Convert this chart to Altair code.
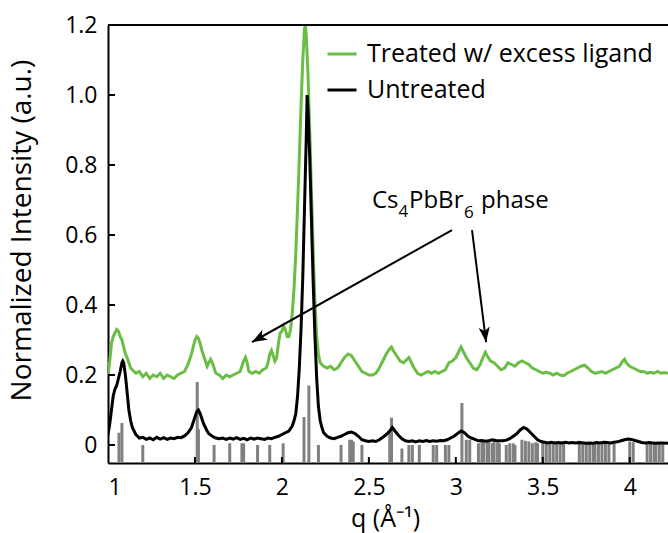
import math
import altair as alt
import pandas as pd

FONT = "Open Sans"
GREEN = "#6abd45"
GRAY = "#808080"

# ---------------- data ----------------
treated_q = [1.00, 1.01, 1.02, 1.03, 1.04, 1.05, 1.06, 1.07, 1.08, 1.09, 1.10, 1.11, 1.12, 1.13, 1.14,
             1.15, 1.16, 1.18, 1.20, 1.22, 1.24, 1.26, 1.28, 1.30, 1.32, 1.34, 1.36, 1.38, 1.40, 1.42,
             1.44, 1.46, 1.48, 1.50, 1.51, 1.52, 1.53, 1.54, 1.55, 1.56, 1.57, 1.58, 1.59, 1.60, 1.61,
             1.62, 1.64, 1.66, 1.68, 1.70, 1.72, 1.74, 1.76, 1.78, 1.79, 1.80, 1.81, 1.83, 1.85, 1.87,
             1.89, 1.91, 1.92, 1.93, 1.94, 1.95, 1.96, 1.97, 1.98, 1.99, 2.00, 2.01, 2.02, 2.03, 2.04,
             2.05, 2.06, 2.07, 2.08, 2.09, 2.10, 2.11, 2.12, 2.13, 2.135, 2.14, 2.15, 2.16, 2.17, 2.18,
             2.19, 2.20, 2.21, 2.22, 2.24, 2.26, 2.28, 2.30, 2.32, 2.34, 2.36, 2.38, 2.40, 2.42, 2.44,
             2.46, 2.48, 2.50, 2.52, 2.54, 2.56, 2.58, 2.60, 2.62, 2.63, 2.64, 2.66, 2.68, 2.70, 2.72,
             2.73, 2.74, 2.76, 2.78, 2.80, 2.82, 2.84, 2.86, 2.88, 2.90, 2.92, 2.94, 2.96, 2.98, 3.00,
             3.02, 3.03, 3.04, 3.06, 3.08, 3.10, 3.12, 3.14, 3.16, 3.17, 3.18, 3.20, 3.22, 3.24, 3.26,
             3.28, 3.30, 3.32, 3.34, 3.36, 3.38, 3.40, 3.42, 3.44, 3.46, 3.48, 3.50, 3.52, 3.54, 3.56,
             3.58, 3.60, 3.62, 3.64, 3.66, 3.68, 3.70, 3.72, 3.74, 3.76, 3.78, 3.80, 3.82, 3.84, 3.86,
             3.88, 3.90, 3.92, 3.94, 3.96, 3.97, 3.98, 4.00, 4.02, 4.04, 4.06, 4.08, 4.10, 4.12, 4.14,
             4.16, 4.18, 4.20, 4.22]
treated_i = [0.200, 0.240, 0.290, 0.310, 0.320, 0.330, 0.325, 0.310, 0.300, 0.280, 0.260, 0.250, 0.235, 0.220, 0.215,
             0.210, 0.205, 0.210, 0.195, 0.205, 0.190, 0.200, 0.195, 0.205, 0.190, 0.200, 0.195, 0.190, 0.200, 0.205,
             0.210, 0.230, 0.260, 0.300, 0.310, 0.305, 0.290, 0.270, 0.255, 0.240, 0.225, 0.235, 0.245, 0.235, 0.220,
             0.205, 0.200, 0.190, 0.200, 0.195, 0.200, 0.205, 0.210, 0.240, 0.250, 0.235, 0.210, 0.205, 0.210, 0.205,
             0.215, 0.220, 0.235, 0.260, 0.270, 0.255, 0.240, 0.250, 0.290, 0.320, 0.325, 0.340, 0.330, 0.310, 0.310,
             0.330, 0.380, 0.450, 0.550, 0.680, 0.820, 0.970, 1.100, 1.190, 1.200, 1.170, 1.060, 0.900, 0.720, 0.550,
             0.410, 0.310, 0.260, 0.235, 0.225, 0.220, 0.225, 0.215, 0.220, 0.235, 0.250, 0.260, 0.255, 0.240, 0.225,
             0.210, 0.205, 0.200, 0.200, 0.205, 0.220, 0.240, 0.260, 0.275, 0.280, 0.270, 0.255, 0.240, 0.235, 0.245,
             0.250, 0.240, 0.220, 0.205, 0.200, 0.205, 0.210, 0.205, 0.210, 0.205, 0.210, 0.215, 0.235, 0.240, 0.250,
             0.270, 0.280, 0.270, 0.250, 0.235, 0.220, 0.215, 0.230, 0.255, 0.265, 0.255, 0.240, 0.235, 0.225, 0.215,
             0.220, 0.235, 0.230, 0.225, 0.235, 0.240, 0.235, 0.230, 0.220, 0.215, 0.210, 0.205, 0.208, 0.205, 0.200,
             0.205, 0.200, 0.198, 0.205, 0.210, 0.215, 0.220, 0.225, 0.228, 0.220, 0.210, 0.205, 0.207, 0.210, 0.205,
             0.210, 0.215, 0.220, 0.225, 0.240, 0.245, 0.235, 0.225, 0.220, 0.215, 0.210, 0.210, 0.205, 0.208, 0.205,
             0.210, 0.205, 0.207, 0.205]

untreated_q = [1.00, 1.01, 1.02, 1.03, 1.04, 1.05, 1.06, 1.07, 1.08, 1.085, 1.09, 1.10, 1.11, 1.12, 1.13,
               1.14, 1.15, 1.16, 1.17, 1.18, 1.20, 1.22, 1.24, 1.26, 1.28, 1.30, 1.32, 1.34, 1.36, 1.38,
               1.40, 1.42, 1.44, 1.46, 1.48, 1.50, 1.51, 1.52, 1.53, 1.54, 1.55, 1.56, 1.57, 1.58, 1.60,
               1.62, 1.64, 1.66, 1.68, 1.70, 1.72, 1.74, 1.76, 1.78, 1.80, 1.82, 1.84, 1.86, 1.88, 1.90,
               1.92, 1.94, 1.96, 1.98, 2.00, 2.02, 2.04, 2.06, 2.07, 2.08, 2.09, 2.10, 2.11, 2.12, 2.13,
               2.14, 2.145, 2.15, 2.16, 2.17, 2.18, 2.19, 2.20, 2.21, 2.22, 2.23, 2.24, 2.26, 2.28, 2.30,
               2.32, 2.34, 2.36, 2.38, 2.40, 2.42, 2.44, 2.46, 2.48, 2.50, 2.52, 2.54, 2.56, 2.58, 2.60,
               2.62, 2.635, 2.65, 2.67, 2.69, 2.71, 2.73, 2.75, 2.77, 2.79, 2.81, 2.83, 2.85, 2.87, 2.89,
               2.91, 2.93, 2.95, 2.97, 2.99, 3.01, 3.03, 3.05, 3.07, 3.09, 3.11, 3.13, 3.15, 3.17, 3.19,
               3.21, 3.23, 3.25, 3.27, 3.29, 3.31, 3.33, 3.35, 3.37, 3.39, 3.41, 3.43, 3.45, 3.47, 3.49,
               3.51, 3.53, 3.55, 3.57, 3.59, 3.61, 3.63, 3.65, 3.67, 3.69, 3.71, 3.73, 3.75, 3.77, 3.79,
               3.81, 3.83, 3.85, 3.87, 3.89, 3.91, 3.93, 3.95, 3.97, 3.99, 4.01, 4.03, 4.05, 4.07, 4.09,
               4.11, 4.13, 4.15, 4.17, 4.19, 4.22]
untreated_i = [0.030, 0.060, 0.100, 0.140, 0.160, 0.170, 0.190, 0.210, 0.235, 0.240, 0.235, 0.200, 0.150, 0.100, 0.070,
               0.050, 0.040, 0.030, 0.025, 0.020, 0.022, 0.016, 0.020, 0.015, 0.022, 0.017, 0.021, 0.016, 0.020, 0.018,
               0.022, 0.021, 0.026, 0.035, 0.050, 0.080, 0.095, 0.100, 0.090, 0.075, 0.060, 0.050, 0.040, 0.032, 0.025,
               0.020, 0.018, 0.020, 0.016, 0.020, 0.017, 0.021, 0.016, 0.019, 0.015, 0.020, 0.017, 0.020, 0.018, 0.016,
               0.020, 0.018, 0.022, 0.025, 0.030, 0.035, 0.040, 0.055, 0.070, 0.090, 0.140, 0.220, 0.330, 0.480, 0.680,
               0.880, 1.000, 0.960, 0.820, 0.640, 0.460, 0.310, 0.190, 0.110, 0.070, 0.050, 0.035, 0.025, 0.020, 0.018,
               0.022, 0.025, 0.030, 0.035, 0.037, 0.033, 0.025, 0.015, 0.012, 0.010, 0.012, 0.010, 0.015, 0.022, 0.030,
               0.040, 0.050, 0.040, 0.028, 0.018, 0.012, 0.010, 0.012, 0.009, 0.012, 0.010, 0.013, 0.010, 0.012, 0.011,
               0.013, 0.012, 0.015, 0.020, 0.025, 0.033, 0.040, 0.035, 0.025, 0.020, 0.016, 0.012, 0.013, 0.011, 0.012,
               0.015, 0.013, 0.012, 0.012, 0.014, 0.018, 0.025, 0.032, 0.043, 0.050, 0.045, 0.035, 0.025, 0.015, 0.010,
               0.008, 0.006, 0.008, 0.006, 0.007, 0.006, 0.008, 0.006, 0.007, 0.006, 0.007, 0.006, 0.005, 0.006, 0.005,
               0.007, 0.006, 0.008, 0.007, 0.006, 0.008, 0.009, 0.012, 0.015, 0.017, 0.016, 0.013, 0.010, 0.007, 0.006,
               0.007, 0.006, 0.005, 0.006, 0.006, 0.005]

# Cs4PbBr6 reference pattern (stick positions and heights)
stick_q = [1.063, 1.080, 1.200, 1.513, 1.520, 1.610, 1.700, 1.770, 1.780, 1.860, 1.930, 2.007,
           2.127, 2.155, 2.210, 2.340, 2.390, 2.400, 2.410, 2.460, 2.620, 2.630, 2.690, 2.730,
           2.750, 2.790, 2.870, 2.890, 2.940, 2.960, 3.035, 3.060, 3.080, 3.130, 3.150, 3.160,
           3.180, 3.190, 3.210, 3.220, 3.240, 3.250, 3.290, 3.310, 3.330, 3.340, 3.380, 3.400,
           3.420, 3.440, 3.460, 3.470, 3.500, 3.520, 3.540, 3.560, 3.580, 3.600, 3.620, 3.710,
           3.730, 3.750, 3.770, 3.790, 3.800, 3.820, 3.840, 3.860, 3.880, 3.910, 4.000, 4.020,
           4.100, 4.120, 4.140, 4.150, 4.170, 4.190]
stick_h = [0.035, 0.063, 0.000, 0.180, 0.045, 0.000, 0.005, 0.005, 0.005, 0.000, 0.000, 0.005,
           0.080, 0.170, 0.000, 0.000, 0.015, 0.015, 0.010, 0.000, 0.040, 0.078, -0.010, 0.000,
           0.000, 0.000, 0.000, 0.000, 0.000, 0.000, 0.120, 0.015, 0.015, 0.005, 0.012, 0.008,
           0.015, 0.010, 0.005, 0.012, 0.008, 0.005, 0.000, 0.005, 0.005, 0.000, 0.015, 0.012,
           0.010, 0.005, 0.008, 0.005, 0.008, 0.005, 0.010, 0.006, 0.008, 0.005, 0.006, 0.012,
           0.010, 0.005, 0.008, 0.005, 0.006, 0.008, 0.005, 0.006, 0.004, 0.003, 0.010, 0.008,
           0.005, 0.006, 0.008, 0.004, 0.006, 0.005]

x_ticks = [1, 1.5, 2, 2.5, 3, 3.5, 4]
y_ticks = [0, 0.2, 0.4, 0.6, 0.8, 1.0, 1.2]

series_names = ["Treated w/ excess ligand", "Untreated"]

# annotation arrows: (start q, start I, tip q, tip I)
arrow_start_q = [2.978, 3.093]
arrow_start_i = [0.614, 0.614]
arrow_tip_q = [1.828, 3.174]
arrow_tip_i = [0.294, 0.294]

# ---------------- layout ----------------
X_MIN, X_MAX = 1.0, 4.22
Y_MIN, Y_MAX = -0.0514, 1.2
W, H = 560, 438
LEFT, TOP = 108, 25

x_scale = alt.Scale(domain=[X_MIN, X_MAX], nice=False, zero=False)
y_scale = alt.Scale(domain=[Y_MIN, Y_MAX], nice=False, zero=False)

x_axis = alt.Axis(values=x_ticks, labelExpr="format(datum.value, '~g')", ticks=False, grid=False,
                  domainColor="black", domainWidth=2, labelFontSize=23, labelFont=FONT,
                  labelColor="black", labelPadding=24, labelBaseline="middle",
                  title="q (Å⁻¹)", titleFont=FONT, titleFontSize=25, titleFontWeight="normal",
                  titleColor="black", titleY=55, titleX=277, titleBaseline="middle")
y_axis = alt.Axis(values=y_ticks, labelExpr="datum.value == 0 ? '0' : format(datum.value, '.1f')",
                  ticks=False, grid=False, domainColor="black", domainWidth=2, labelFontSize=23,
                  labelFont=FONT, labelColor="black", labelPadding=11, labelBaseline="middle",
                  title="Normalized Intensity (a.u.)", titleFont=FONT, titleFontSize=28,
                  titleFontWeight="normal", titleColor="black", titleX=-86, titleY=205,
                  titleBaseline="middle", titleAlign="center")

curves = pd.DataFrame({
    "q": treated_q + untreated_q,
    "I": treated_i + untreated_i,
    "series": [series_names[0]] * len(treated_q) + [series_names[1]] * len(untreated_q),
})
sticks = pd.DataFrame({"q": stick_q, "h": stick_h})

stick_layer = alt.Chart(sticks).mark_rule(color=GRAY, strokeWidth=3).encode(
    x=alt.X("q:Q", scale=x_scale, axis=x_axis),
    y=alt.Y("h:Q", scale=y_scale, axis=y_axis),
    y2=alt.datum(Y_MIN),
)

line_layer = alt.Chart(curves).mark_line(strokeWidth=3, clip=True).encode(
    x=alt.X("q:Q", scale=x_scale, axis=x_axis),
    y=alt.Y("I:Q", scale=y_scale, axis=y_axis),
    color=alt.Color("series:N", scale=alt.Scale(domain=series_names, range=[GREEN, "black"]),
                    legend=alt.Legend(title=None, orient="none", legendX=218, legendY=13,
                                      symbolType="stroke", symbolStrokeWidth=3, symbolSize=841,
                                      labelFontSize=25, labelFont=FONT, labelColor="black",
                                      labelOffset=9, rowPadding=7, padding=0, labelLimit=500)),
    order=alt.Order("q:Q"),
)

xt = pd.DataFrame({"v": x_ticks[1:]})
yt = pd.DataFrame({"v": y_ticks[:-1]})
xtick_layer = alt.Chart(xt).mark_rule(color="black", strokeWidth=2).encode(
    x=alt.X("v:Q", scale=x_scale, axis=x_axis),
    y=alt.datum(Y_MIN), y2=alt.datum(Y_MIN + 6 * (Y_MAX - Y_MIN) / H),
)
ytick_layer = alt.Chart(yt).mark_rule(color="black", strokeWidth=2).encode(
    y=alt.Y("v:Q", scale=y_scale, axis=y_axis),
    x=alt.datum(X_MIN), x2=alt.datum(X_MIN + 7 * (X_MAX - X_MIN) / W),
)
top_layer = alt.Chart(pd.DataFrame({"a": [0]})).mark_rule(color="black", strokeWidth=2).encode(
    y=alt.datum(Y_MAX), x=alt.value(0), x2=alt.value(W),
)


def px(q):
    return (q - X_MIN) / (X_MAX - X_MIN) * W


def py(i):
    return (Y_MAX - i) / (Y_MAX - Y_MIN) * H


angles = []
for sq, si, tq, ti in zip(arrow_start_q, arrow_start_i, arrow_tip_q, arrow_tip_i):
    dx = px(tq) - px(sq)
    dy = py(ti) - py(si)
    angles.append(math.degrees(math.atan2(dx, -dy)) % 360)

arrows = pd.DataFrame({"sq": arrow_start_q, "si": arrow_start_i, "tq": arrow_tip_q,
                       "ti": arrow_tip_i, "ang": angles})
arrow_lines = alt.Chart(arrows).mark_rule(color="black", strokeWidth=2).encode(
    x=alt.X("sq:Q", scale=x_scale, axis=x_axis), y=alt.Y("si:Q", scale=y_scale, axis=y_axis),
    x2="tq:Q", y2="ti:Q",
)
ARROW = "M0,0 L0.6,1.6 L0,1.2 L-0.6,1.6 Z"
arrow_heads = alt.Chart(arrows).mark_point(shape=ARROW, filled=True, size=353, color="black",
                                           opacity=1, strokeWidth=0).encode(
    x=alt.X("tq:Q", scale=x_scale, axis=x_axis), y=alt.Y("ti:Q", scale=y_scale, axis=y_axis),
    angle=alt.Angle("ang:Q", scale=None),
)

one = pd.DataFrame({"a": [0]})


def label(text, xpx, ypx, size):
    return alt.Chart(one).mark_text(text=text, font=FONT, fontSize=size, color="black",
                                    align="left", baseline="alphabetic").encode(
        x=alt.value(xpx - LEFT), y=alt.value(ypx - TOP))


ann = (label("Cs", 372, 208, 24) + label("4", 398.5, 217, 17) + label("PbBr", 409, 208, 24)
       + label("6", 464, 218, 17) + label("phase", 481, 208, 24))

chart = alt.layer(
    stick_layer, line_layer, xtick_layer, ytick_layer, top_layer, arrow_lines, arrow_heads, ann,
).properties(
    width=W, height=H,
    padding={"left": LEFT, "top": TOP, "right": 0, "bottom": 533 - TOP - H},
    autosize=alt.AutoSizeParams(type="none"),
    background="white",
).configure_view(stroke=None)

chart.save("out.html", embed_options={"renderer": "svg", "actions": False})
